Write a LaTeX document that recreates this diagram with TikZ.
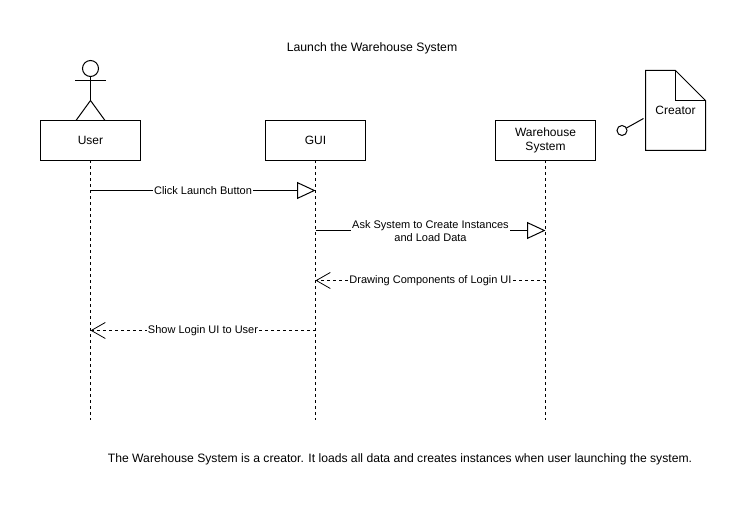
\documentclass[tikz,border=0pt]{standalone}
\usepackage{fontspec}
\setmainfont{Liberation Sans}
\usetikzlibrary{arrows.meta,positioning}

\begin{document}
\begin{tikzpicture}[
  x=1pt, y=-1pt,
  line width=1pt,
  every node/.style={font=\fontsize{12}{14}\selectfont},
  objnode/.style={draw,rectangle,minimum width=100pt,minimum height=40pt,outer sep=0pt,align=center},
  notenode/.style={rectangle,minimum width=60pt,minimum height=80pt,outer sep=0pt},
  msglabel/.style={fill=white,inner sep=1pt,align=center,yshift=-0.5pt,font=\fontsize{11}{13}\selectfont},
  lifeline/.style={dash pattern=on 3pt off 3pt},
  callmsg/.style={-{Triangle[open,fill=white,length=18.5pt,width=17pt]}},
  returnmsg/.style={dash pattern=on 3pt off 3pt,-{Straight Barb[length=14pt,width=16pt,line width=0.8pt]}}
]
\useasboundingbox (0,0) rectangle (737,510);
\node[font=\fontsize{12.25}{14}\selectfont] (title) at (372,48.7) {Launch the Warehouse System};
\node[objnode] (user) at (90.5,140.5) {User};
\node[objnode, right=125pt of user] (gui) {GUI};
\node[objnode, right=130pt of gui] (wh) {Warehouse\\System};
\node[notenode] (creator) at (675.5,110.5) {};
\node (creatortext) at (675.5,110.2) {Creator};
\node[font=\fontsize{12.15}{14}\selectfont] (footer) at (400,459.7) {The Warehouse System is a creator. It loads all data and creates instances when user launching the system.};
% actor
\node[draw,circle,minimum size=16pt,inner sep=0pt,outer sep=0pt] (head) at (90.5,68.5) {};
\coordinate (hip) at (90.5,100.5);
\draw (head.south) -- (hip);
\draw (75,80.5) -- (105.5,80.5);
\draw (76,120.5) -- (hip) -- (105,120.5);
% note and its lollipop
\draw (creator.south west) -- (creator.north west) -- ([xshift=-30pt]creator.north east)
  -- ([yshift=-30pt]creator.north east) -- (creator.south east) -- cycle;
\draw ([xshift=-30pt]creator.north east) -- ([xshift=-30pt,yshift=-30pt]creator.north east)
  -- ([yshift=-30pt]creator.north east);
\node[draw,circle,minimum size=10pt,inner sep=0pt,outer sep=0pt] (lolly) at (622,130.5) {};
\coordinate (lollyend) at (643.5,118.5);
\draw (lolly) -- (lollyend);
% lifeline ends and message points
\coordinate[below=260pt of user] (userend);
\coordinate[below=260pt of gui] (guiend);
\coordinate[below=260pt of wh] (whend);
\coordinate[below=30pt of user] (clickfrom);
\coordinate[below=30pt of gui] (clickto);
\coordinate[below=70pt of gui] (askfrom);
\coordinate[below=70pt of wh] (askto);
\coordinate[below=120pt of wh] (drawfrom);
\coordinate[below=120pt of gui] (drawto);
\coordinate[below=170pt of gui] (showfrom);
\coordinate[below=170pt of user] (showto);
\path (user) edge[lifeline] (userend)
(gui) edge[lifeline] (guiend)
(wh) edge[lifeline] (whend)
;
\path (clickfrom) edge[callmsg] node[msglabel] {Click Launch Button} (clickto)
(askfrom) edge[callmsg] node[msglabel] {Ask System to Create Instances\\and Load Data} (askto)
(drawfrom) edge[returnmsg] node[msglabel] {Drawing Components of Login UI} (drawto)
(showfrom) edge[returnmsg] node[msglabel] {Show Login UI to User} (showto)
;
\end{tikzpicture}
\end{document}
